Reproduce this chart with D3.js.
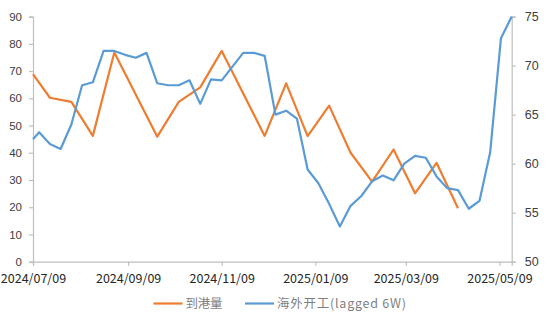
<!DOCTYPE html>
<html>
<head>
<meta charset="utf-8">
<script src="https://cdn.jsdelivr.net/npm/d3@7"></script>
<style>
  html, body { margin: 0; padding: 0; background: #fff; }
  svg { display: block; }
</style>
</head>
<body>
<svg id="chart" width="550" height="323"></svg>
<script>
// 到港量 (left axis), roughly bi-weekly
const arrivalDates = [
  "2024-07-09","2024-07-20","2024-08-03","2024-08-17","2024-08-31",
  "2024-09-28","2024-10-12","2024-10-26","2024-11-09","2024-12-07",
  "2024-12-21","2025-01-04","2025-01-18","2025-02-01","2025-02-15",
  "2025-03-01","2025-03-15","2025-03-29","2025-04-12"
];
const arrivalValues = [
  68.9, 60.2, 58.7, 46.2, 76.8,
  45.9, 58.7, 64.0, 77.4, 46.2,
  65.5, 46.1, 57.3, 40.0, 29.4,
  41.2, 25.1, 36.3, 19.6
];

// 海外开工 (lagged 6W), weekly (right axis)
const runDates = [
  "2024-07-09","2024-07-13","2024-07-20","2024-07-27","2024-08-03","2024-08-10",
  "2024-08-17","2024-08-24","2024-08-31","2024-09-07","2024-09-14","2024-09-21",
  "2024-09-28","2024-10-05","2024-10-12","2024-10-19","2024-10-26","2024-11-02",
  "2024-11-09","2024-11-16","2024-11-23","2024-11-30","2024-12-07","2024-12-14",
  "2024-12-21","2024-12-28","2025-01-04","2025-01-11","2025-01-18","2025-01-25",
  "2025-02-01","2025-02-08","2025-02-15","2025-02-22","2025-03-01","2025-03-08",
  "2025-03-15","2025-03-22","2025-03-29","2025-04-05","2025-04-12","2025-04-19",
  "2025-04-26","2025-05-03","2025-05-10","2025-05-17"
];
const runValues = [
  62.5, 63.2, 62.0, 61.5, 64.0, 68.0,
  68.3, 71.5, 71.5, 71.1, 70.8, 71.3,
  68.2, 68.0, 68.0, 68.5, 66.1, 68.6,
  68.5, 69.9, 71.3, 71.3, 71.0, 65.0,
  65.4, 64.6, 59.4, 58.0, 55.9, 53.6,
  55.7, 56.7, 58.2, 58.8, 58.3, 60.0,
  60.8, 60.6, 58.7, 57.5, 57.3, 55.4,
  56.2, 61.2, 72.8, 75.0
];

const xTickLabels = ["2024/07/09","2024/09/09","2024/11/09","2025/01/09","2025/03/09","2025/05/09"];
const leftTicks = [0, 10, 20, 30, 40, 50, 60, 70, 80, 90];
const rightTicks = [50, 55, 60, 65, 70, 75];
const seriesNames = ["到港量", "海外开工(lagged 6W)"];
const seriesColors = ["#ED7D31", "#5B9BD5"];

const parseDay = d3.timeParse("%Y-%m-%d");
const parseTick = d3.timeParse("%Y/%m/%d");
const fmtTick = d3.timeFormat("%Y/%m/%d");

const svg = d3.select("#chart");
const plotLeft = 33, plotRight = 511.7, plotTop = 16.6, plotBottom = 261.7;

const x = d3.scaleTime()
  .domain([parseDay(runDates[0]), parseDay(runDates[runDates.length - 1])])
  .range([plotLeft, plotRight]);
const yL = d3.scaleLinear().domain([0, 90]).range([plotBottom, plotTop]);
const yR = d3.scaleLinear().domain([50, 75]).range([plotBottom, plotTop]);

const axisColor = "#bfbfbf";
const textColor = "#404040";

function styleAxis(g) {
  g.select(".domain").attr("stroke", axisColor).attr("stroke-width", 1.2);
  g.selectAll(".tick line").attr("stroke", axisColor).attr("stroke-width", 1.2);
  g.selectAll(".tick text").attr("fill", textColor);
}

// left axis
svg.append("g")
  .attr("transform", `translate(${plotLeft},0)`)
  .call(d3.axisLeft(yL).tickValues(leftTicks).tickSizeOuter(0).tickSize(4).tickPadding(7))
  .call(styleAxis)
  .call(g => g.selectAll(".tick text")
    .attr("font-family", "'Liberation Sans', Arial, sans-serif")
    .attr("font-size", 11.5));

// right axis
svg.append("g")
  .attr("transform", `translate(${plotRight},0)`)
  .call(d3.axisRight(yR).tickValues(rightTicks).tickSizeOuter(0).tickSize(4).tickPadding(9))
  .call(styleAxis)
  .call(g => g.selectAll(".tick text")
    .attr("font-family", "'Liberation Sans', Arial, sans-serif")
    .attr("font-size", 12.5));

// bottom date axis
svg.append("g")
  .attr("transform", `translate(0,${plotBottom})`)
  .call(d3.axisBottom(x)
    .tickValues(xTickLabels.map(parseTick))
    .tickFormat(fmtTick)
    .tickSizeOuter(0).tickSize(4).tickPadding(8))
  .call(styleAxis)
  .call(g => g.selectAll(".tick text")
    .attr("font-family", "'Noto Sans CJK SC', sans-serif")
    .attr("font-size", 12.5)
    .attr("fill", "#262626"));

// series lines
const arrivalLine = d3.line()
  .x((d, i) => x(parseDay(arrivalDates[i])))
  .y(d => yL(d));
const runLine = d3.line()
  .x((d, i) => x(parseDay(runDates[i])))
  .y(d => yR(d));

svg.append("path")
  .datum(arrivalValues)
  .attr("d", arrivalLine)
  .attr("fill", "none")
  .attr("stroke", seriesColors[0])
  .attr("stroke-width", 2.2)
  .attr("stroke-linejoin", "round");

svg.append("path")
  .datum(runValues)
  .attr("d", runLine)
  .attr("fill", "none")
  .attr("stroke", seriesColors[1])
  .attr("stroke-width", 2.2)
  .attr("stroke-linejoin", "round");

// legend
const legendY = 303.5;
const legendItems = [
  { name: seriesNames[0], color: seriesColors[0], x: 153.5, len: 37 },
  { name: seriesNames[1], color: seriesColors[1], x: 245, len: 129 }
];
const lg = svg.append("g");
legendItems.forEach(it => {
  lg.append("line")
    .attr("x1", it.x).attr("x2", it.x + 29)
    .attr("y1", legendY).attr("y2", legendY)
    .attr("stroke", it.color).attr("stroke-width", 2.2);
  lg.append("text")
    .attr("x", it.x + 32).attr("y", legendY)
    .attr("dy", "0.35em")
    .attr("font-family", "'Noto Sans CJK SC', sans-serif")
    .attr("font-size", 12.5)
    .attr("fill", "#7f7f7f")
    .attr("textLength", it.len)
    .attr("lengthAdjust", "spacing")
    .text(it.name);
});
</script>
</body>
</html>
